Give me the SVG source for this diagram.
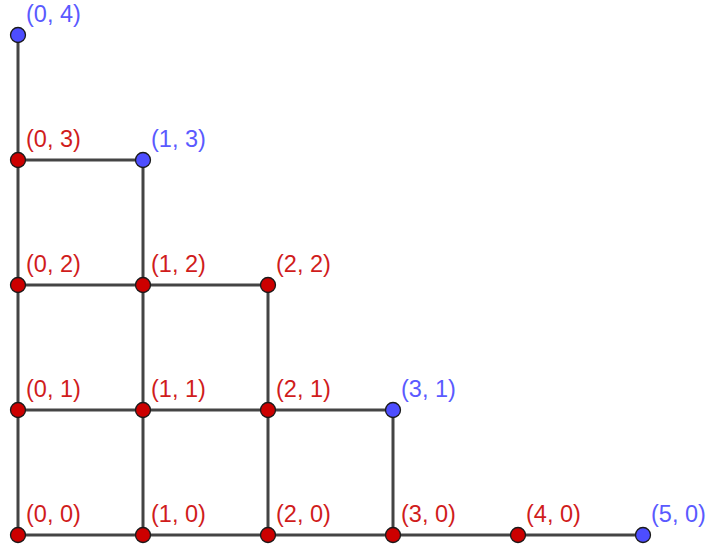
<svg xmlns="http://www.w3.org/2000/svg" width="708" height="552" viewBox="0 0 708 552">
<style>
.e{stroke:#444;stroke-width:3;fill:none;stroke-linecap:round}
.r{fill:#cc0000;stroke:#1a1a1a;stroke-width:1.3}
.b{fill:#4d4dff;stroke:#1a1a1a;stroke-width:1.3}
.tr{fill:#d01c1c;font-family:"Liberation Sans",Arial,sans-serif;font-size:23.5px}
.tb{fill:#5a5aff;font-family:"Liberation Sans",Arial,sans-serif;font-size:23.5px}
</style>
<rect width="708" height="552" fill="#fff"/>
<g id="connectors">
<line class="e" x1="18" y1="35" x2="18" y2="535"/>
<line class="e" x1="143" y1="160" x2="143" y2="535"/>
<line class="e" x1="268" y1="285" x2="268" y2="535"/>
<line class="e" x1="393" y1="410" x2="393" y2="535"/>
<line class="e" x1="18" y1="160" x2="143" y2="160"/>
<line class="e" x1="18" y1="285" x2="268" y2="285"/>
<line class="e" x1="18" y1="410" x2="393" y2="410"/>
<line class="e" x1="18" y1="535" x2="643" y2="535"/>
</g>
<g id="p04"><circle class="b" cx="18" cy="35" r="7.5"/><text class="tb" x="26" y="22">(0, 4)</text></g>
<g id="p03"><circle class="r" cx="18" cy="160" r="7.5"/><text class="tr" x="26" y="147">(0, 3)</text></g>
<g id="p13"><circle class="b" cx="143" cy="160" r="7.5"/><text class="tb" x="151" y="147">(1, 3)</text></g>
<g id="p02"><circle class="r" cx="18" cy="285" r="7.5"/><text class="tr" x="26" y="272">(0, 2)</text></g>
<g id="p12"><circle class="r" cx="143" cy="285" r="7.5"/><text class="tr" x="151" y="272">(1, 2)</text></g>
<g id="p22"><circle class="r" cx="268" cy="285" r="7.5"/><text class="tr" x="276" y="272">(2, 2)</text></g>
<g id="p01"><circle class="r" cx="18" cy="410" r="7.5"/><text class="tr" x="26" y="397">(0, 1)</text></g>
<g id="p11"><circle class="r" cx="143" cy="410" r="7.5"/><text class="tr" x="151" y="397">(1, 1)</text></g>
<g id="p21"><circle class="r" cx="268" cy="410" r="7.5"/><text class="tr" x="276" y="397">(2, 1)</text></g>
<g id="p31"><circle class="b" cx="393" cy="410" r="7.5"/><text class="tb" x="401" y="397">(3, 1)</text></g>
<g id="p00"><circle class="r" cx="18" cy="535" r="7.5"/><text class="tr" x="26" y="522">(0, 0)</text></g>
<g id="p10"><circle class="r" cx="143" cy="535" r="7.5"/><text class="tr" x="151" y="522">(1, 0)</text></g>
<g id="p20"><circle class="r" cx="268" cy="535" r="7.5"/><text class="tr" x="276" y="522">(2, 0)</text></g>
<g id="p30"><circle class="r" cx="393" cy="535" r="7.5"/><text class="tr" x="401" y="522">(3, 0)</text></g>
<g id="p40"><circle class="r" cx="518" cy="535" r="7.5"/><text class="tr" x="526" y="522">(4, 0)</text></g>
<g id="p50"><circle class="b" cx="643" cy="535" r="7.5"/><text class="tb" x="651" y="522">(5, 0)</text></g>
</svg>
